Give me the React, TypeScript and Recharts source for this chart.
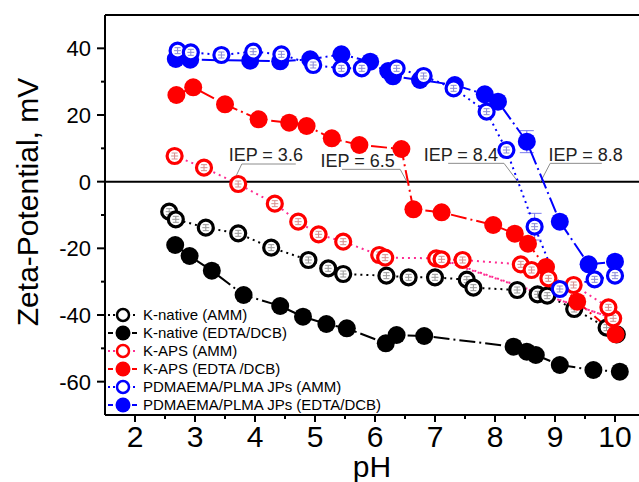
import React from "react";
import {
  ComposedChart,
  Line,
  XAxis,
  YAxis,
  ReferenceLine,
  ReferenceDot,
  ErrorBar,
} from "recharts";

// [pH, zeta (mV), error bar (optional)]
type Pt = [number, number, number?];

const PH_TICKS = [2, 2.5, 3, 3.5, 4, 4.5, 5, 5.5, 6, 6.5, 7, 7.5, 8, 8.5, 9, 9.5, 10];
const MV_TICKS = [-60, -50, -40, -30, -20, -10, 0, 10, 20, 30, 40];

const K_NATIVE_AMM: Pt[] = [
  [2.57, -9.0], [2.68, -11.3], [3.18, -13.8], [3.72, -15.5], [4.27, -19.8],
  [4.89, -23.5], [5.22, -26.0], [5.47, -27.7], [6.19, -28.2], [6.56, -28.7],
  [7.0, -28.7], [7.53, -29.4], [7.64, -31.8], [8.37, -32.5], [8.71, -33.8],
  [8.87, -34.2], [9.32, -38.2], [9.86, -43.8], [10.03, -45.8],
];

const K_NATIVE_EDTA: Pt[] = [
  [2.67, -19.0], [2.91, -22.3], [3.28, -26.7], [3.81, -34.0], [4.42, -37.3],
  [4.8, -40.5], [5.19, -42.7], [5.53, -44.0], [6.18, -48.5], [6.36, -46.0],
  [6.82, -46.3], [8.31, -49.5], [8.53, -51.0], [8.68, -52.0], [9.08, -55.0],
  [9.64, -56.5], [10.08, -57.0],
];

// measured in two runs, plotted in acquisition order
const K_APS_AMM: Pt[] = [
  [2.66, 7.7], [3.15, 4.2], [3.72, -0.7], [4.33, -6.6], [4.72, -12.0],
  [5.06, -15.8], [5.47, -18.0], [6.07, -22.0], [6.17, -22.8], [7.02, -23.0],
  [9.97, -41.0], [7.11, -23.3], [7.46, -23.5], [8.43, -24.8], [8.61, -26.5],
  [8.89, -29.0], [9.31, -31.0], [9.89, -37.7],
];

const K_APS_EDTA: Pt[] = [
  [2.69, 26.0], [2.97, 28.3], [3.5, 23.2], [4.06, 18.7], [4.57, 17.7],
  [4.86, 16.7], [5.28, 13.0], [5.74, 11.0], [6.44, 9.8], [6.64, -8.3],
  [7.11, -9.2], [7.97, -13.0], [8.33, -15.6], [8.55, -18.6], [8.85, -25.6],
  [9.37, -36.0], [10.01, -45.8],
];

const JP_AMM: Pt[] = [
  [2.71, 39.3], [2.93, 38.8], [3.44, 38.0], [3.97, 39.0], [4.44, 38.2],
  [4.97, 35.0], [5.44, 34.0], [5.78, 34.0], [6.36, 34.0], [6.81, 31.7],
  [7.31, 28.0], [7.86, 21.0], [8.19, 9.5], [8.66, -13.5, 4], [9.08, -32.2],
  [9.66, -29.3], [10.0, -28.2],
];

const JP_EDTA: Pt[] = [
  [2.68, 36.8], [2.92, 36.6], [3.92, 36.3], [4.42, 36.1], [4.92, 36.7],
  [5.44, 38.2], [5.92, 36.0], [6.22, 33.2], [6.3, 31.6], [6.75, 30.5],
  [7.33, 29.0], [7.83, 26.2], [8.05, 24.0], [8.53, 12.0, 3.3], [9.08, -12.0],
  [9.56, -24.8], [10.0, -24.0],
];

// isoelectric point call-outs: label centre, underline, leader to the zero line
const IEP = [
  { text: "IEP = 3.6", tx: 4.18, ty: 8.0, x0: 3.78, x1: 4.68, uy: 5.3, knee: 3.78, foot: 3.64 },
  { text: "IEP = 6.5", tx: 5.71, ty: 6.2, x0: 5.45, x1: 6.42, uy: 3.7, knee: 6.42, foot: 6.53 },
  { text: "IEP = 8.4", tx: 7.43, ty: 8.0, x0: 7.22, x1: 8.15, uy: 5.5, knee: 8.15, foot: 8.38 },
  { text: "IEP = 8.8", tx: 9.51, ty: 8.0, x0: 8.92, x1: 9.78, uy: 5.5, knee: 8.92, foot: 8.76 },
];

const BLACK = "#000000";
const RED = "#ff0000";
const PINK = "#ff2d92";
const BLUE = "#0000ff";

const SERIES = [
  { name: "K-native (AMM)", data: K_NATIVE_AMM, color: BLACK, line: BLACK, open: true, dash: "2 4", inner: "#9a9a9a" },
  { name: "K-native (EDTA/DCB)", data: K_NATIVE_EDTA, color: BLACK, line: BLACK, open: false, dash: "16 4 2 4", inner: "" },
  { name: "K-APS (AMM)", data: K_APS_AMM, color: RED, line: PINK, open: true, dash: "2 4", inner: "#d89090" },
  { name: "K-APS (EDTA /DCB)", data: K_APS_EDTA, color: RED, line: RED, open: false, dash: "16 4 2 4", inner: "" },
  { name: "PDMAEMA/PLMA JPs (AMM)", data: JP_AMM, color: BLUE, line: BLUE, open: true, dash: "2 4", inner: "#8c8cd8" },
  { name: "PDMAEMA/PLMA JPs (EDTA/DCB)", data: JP_EDTA, color: BLUE, line: BLUE, open: false, dash: "16 4 2 4", inner: "" },
];

// filled series first so the white open rings sit on top
const DRAW_ORDER = [1, 0, 3, 2, 5, 4];

const toRows = (pts: Pt[]) => pts.map(([x, y, err]) => ({ x, y, err: err ?? 0 }));

function PhTick({ x, y, payload }: any) {
  const v = payload.value;
  const major = Number.isInteger(v);
  return (
    <g>
      <line x1={x} x2={x} y1={y} y2={y + (major ? 7 : 4)} stroke="#000" strokeWidth={2} />
      {major && (
        <text x={x} y={y + 32} textAnchor="middle" fontSize={30} fill="#000">
          {v}
        </text>
      )}
    </g>
  );
}

function MvTick({ x, y, payload }: any) {
  const v = payload.value;
  const major = v % 20 === 0;
  return (
    <g>
      <line x1={x - (major ? 8 : 4)} x2={x} y1={y} y2={y} stroke="#000" strokeWidth={2} />
      {major && (
        <text x={x - 14} y={y + 8} textAnchor="end" fontSize={22} fill="#000">
          {v}
        </text>
      )}
    </g>
  );
}

function OpenDot({ cx, cy, color, inner }: any) {
  if (cx == null || cy == null) return null;
  return (
    <g>
      <circle cx={cx} cy={cy} r={7.5} fill="#fff" stroke={color} strokeWidth={3.2} />
      <path
        d={`M${cx - 3},${cy - 3}h6M${cx - 3},${cy + 3}h6M${cx},${cy - 3}v6M${cx - 3.5},${cy}h7`}
        stroke={inner}
        strokeWidth={1}
        fill="none"
      />
    </g>
  );
}

function YTitle() {
  return (
    <text x={38} y={202} transform="rotate(-90, 38, 202)" textAnchor="middle" fontSize={30} fill="#000">
      Zeta-Potential, mV
    </text>
  );
}

export default function App() {
  return (
    <div
      style={{
        position: "absolute",
        left: 0,
        top: 0,
        width: 639,
        height: 482,
        background: "#fff",
        fontFamily: '"Liberation Sans", Arial, sans-serif',
      }}
    >
      <ComposedChart width={639} height={482} margin={{ top: 15, right: 0, bottom: 0, left: 0 }}>
        <XAxis
          dataKey="x"
          type="number"
          domain={[1.5, 10.4]}
          allowDataOverflow
          ticks={PH_TICKS}
          interval={0}
          height={67}
          tickSize={0}
          tickMargin={0}
          tickLine={false}
          axisLine={{ stroke: "#000", strokeWidth: 2 }}
          tick={<PhTick />}
          label={{ value: "pH", position: "insideBottom", offset: 5, fontSize: 30, fill: "#000" }}
        />
        <YAxis
          type="number"
          domain={[-70, 50]}
          allowDataOverflow
          ticks={MV_TICKS}
          interval={0}
          width={105}
          tickSize={0}
          tickMargin={0}
          tickLine={false}
          axisLine={{ stroke: "#000", strokeWidth: 2 }}
          tick={<MvTick />}
          label={{ content: () => <YTitle /> }}
        />
        <ReferenceLine y={50} stroke="#000" strokeWidth={2} />
        <ReferenceLine y={0} stroke="#000" strokeWidth={2} />
        {IEP.map((a) => (
          <ReferenceLine
            key={a.text + "u"}
            segment={[{ x: a.x0, y: a.uy }, { x: a.x1, y: a.uy }]}
            stroke="#8c8c8c"
            strokeWidth={1}
          />
        ))}
        {IEP.map((a) => (
          <ReferenceLine
            key={a.text + "d"}
            segment={[{ x: a.knee, y: a.uy }, { x: a.foot, y: 0 }]}
            stroke="#8c8c8c"
            strokeWidth={1}
          />
        ))}
        {DRAW_ORDER.map((i) => {
          const s = SERIES[i];
          return (
            <Line
              key={s.name}
              name={s.name}
              data={toRows(s.data)}
              dataKey="y"
              type="linear"
              stroke={s.line}
              strokeWidth={2}
              strokeDasharray={s.dash}
              isAnimationActive={false}
              activeDot={false}
              dot={
                s.open
                  ? (p: any) => <OpenDot key={`${s.name}-${p.index}`} {...p} color={s.color} inner={s.inner} />
                  : { r: 9, fill: s.color, stroke: s.color, strokeWidth: 0 }
              }
            >
              {s.color === BLUE && (
                <ErrorBar dataKey="err" direction="y" width={7} strokeWidth={1} stroke="#7a7aee" />
              )}
            </Line>
          );
        })}
        {IEP.map((a) => (
          <ReferenceDot
            key={a.text}
            x={a.tx}
            y={a.ty}
            r={0}
            fill="none"
            stroke="none"
            label={{ value: a.text, position: "center", fontSize: 18, fill: "#222" }}
          />
        ))}
      </ComposedChart>

      <div style={{ position: "absolute", left: 105, top: 306, fontSize: 15, lineHeight: "18px", color: "#000" }}>
        {SERIES.map((s) => (
          <div key={s.name} style={{ display: "flex", alignItems: "center", height: 18 }}>
            <svg width={36} height={18}>
              <line x1={3} x2={33} y1={9} y2={9} stroke={s.line} strokeWidth={2} strokeDasharray={s.open ? "2 3" : "5 3"} />
              {s.open ? (
                <circle cx={18} cy={9} r={6} fill="#fff" stroke={s.color} strokeWidth={2.5} />
              ) : (
                <circle cx={18} cy={9} r={7.5} fill={s.color} />
              )}
            </svg>
            <span style={{ marginLeft: 2, whiteSpace: "nowrap" }}>{s.name}</span>
          </div>
        ))}
      </div>
    </div>
  );
}
